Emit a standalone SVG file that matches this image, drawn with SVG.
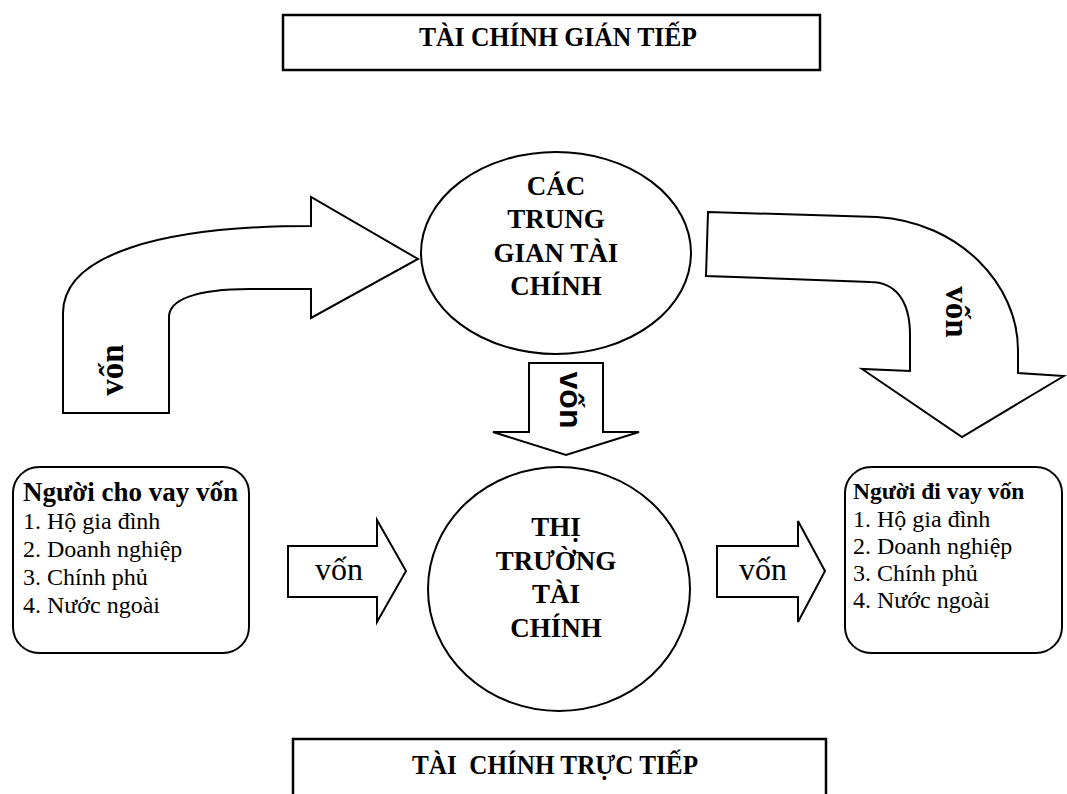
<svg xmlns="http://www.w3.org/2000/svg" width="1067" height="794" viewBox="0 0 1067 794">
<style>
.sh{fill:#fff;stroke:#000;stroke-width:2;stroke-linejoin:miter}
.box{fill:#fff;stroke:#000;stroke-width:2.5}
.t{font-family:"Liberation Serif","Times New Roman",serif;fill:#000}
.b{font-weight:bold}
.c{text-anchor:middle}
</style>
<rect width="1067" height="794" fill="#fff"/>
<g id="top-title">
<rect class="box" x="283" y="15" width="537" height="55"/>
<text class="t b c" x="558" y="46" font-size="28" textLength="278" lengthAdjust="spacingAndGlyphs">TÀI CHÍNH GIÁN TIẾP</text>
</g>
<g id="bottom-title">
<rect class="box" x="293" y="739" width="533" height="70"/>
<text class="t b c" x="555" y="774" font-size="28" textLength="286" lengthAdjust="spacingAndGlyphs" xml:space="preserve">TÀI  CHÍNH TRỰC TIẾP</text>
</g>
<g id="connectors">
<g id="arrow-left-curved">
<path class="sh" d="M63,413 L63,313 C63,255 160,226 311,226 L311,197 L418,259 L311,318 L311,289 L250,289 C195,289 169,300 169,317 L169,413 Z"/>
<text class="t b c" font-size="33" dominant-baseline="central" transform="translate(112,370) rotate(-90)">vốn</text>
</g>
<g id="arrow-right-curved">
<path class="sh" d="M708,212 L877,217 C960,222 1018,285 1018,350 L1018,373 L1064,376 L962,437 L862,369 L910,371 L910,335 C910,300 895,282 870,282 L706,276 Z"/>
<text class="t b c" font-size="33" dominant-baseline="central" transform="translate(957,312) rotate(90)">vốn</text>
</g>
<g id="arrow-down">
<path class="sh" d="M529,363 L603,363 L603,432 L639,432 L566,455 L493,432 L529,432 Z"/>
<text class="b c" font-family="'Liberation Sans',Arial,sans-serif" font-size="32" dominant-baseline="central" transform="translate(571,400) rotate(90)">vốn</text>
</g>
<g id="arrow-right-1">
<path class="sh" d="M288,546 L377,546 L377,520 L406,571 L377,622 L377,597 L288,597 Z"/>
<text class="t c" x="339" y="580" font-size="32">vốn</text>
</g>
<g id="arrow-right-2">
<path class="sh" d="M717,546 L798,546 L798,521 L825,571 L798,622 L798,597 L717,597 Z"/>
<text class="t c" x="763" y="580" font-size="32">vốn</text>
</g>
</g>
<g id="intermediaries">
<ellipse class="sh" cx="556" cy="253" rx="135" ry="101"/>
<text class="t b c" font-size="27"><tspan x="556" y="195">CÁC</tspan><tspan x="556" y="228">TRUNG</tspan><tspan x="556" y="262">GIAN TÀI</tspan><tspan x="556" y="295">CHÍNH</tspan></text>
</g>
<g id="market">
<ellipse class="sh" cx="559" cy="589" rx="131" ry="122"/>
<text class="t b c" font-size="27"><tspan x="556" y="536">THỊ</tspan><tspan x="556" y="570">TRƯỜNG</tspan><tspan x="556" y="603">TÀI</tspan><tspan x="556" y="637">CHÍNH</tspan></text>
</g>
<g id="lenders">
<rect class="sh" x="13" y="467" width="236" height="186" rx="26" ry="26"/>
<text class="t" font-size="24"><tspan x="23" y="501" font-weight="bold" font-size="27">Người cho vay vốn</tspan><tspan x="23" y="529">1. Hộ gia đình</tspan><tspan x="23" y="557">2. Doanh nghiệp</tspan><tspan x="23" y="585">3. Chính phủ</tspan><tspan x="23" y="613">4. Nước ngoài</tspan></text>
</g>
<g id="borrowers">
<rect class="sh" x="845" y="467" width="217" height="186" rx="26" ry="26"/>
<text class="t" font-size="24"><tspan x="853" y="499" font-weight="bold" font-size="23.5">Người đi vay vốn</tspan><tspan x="853" y="527">1. Hộ gia đình</tspan><tspan x="853" y="554">2. Doanh nghiệp</tspan><tspan x="853" y="581">3. Chính phủ</tspan><tspan x="853" y="608">4. Nước ngoài</tspan></text>
</g>
</svg>
